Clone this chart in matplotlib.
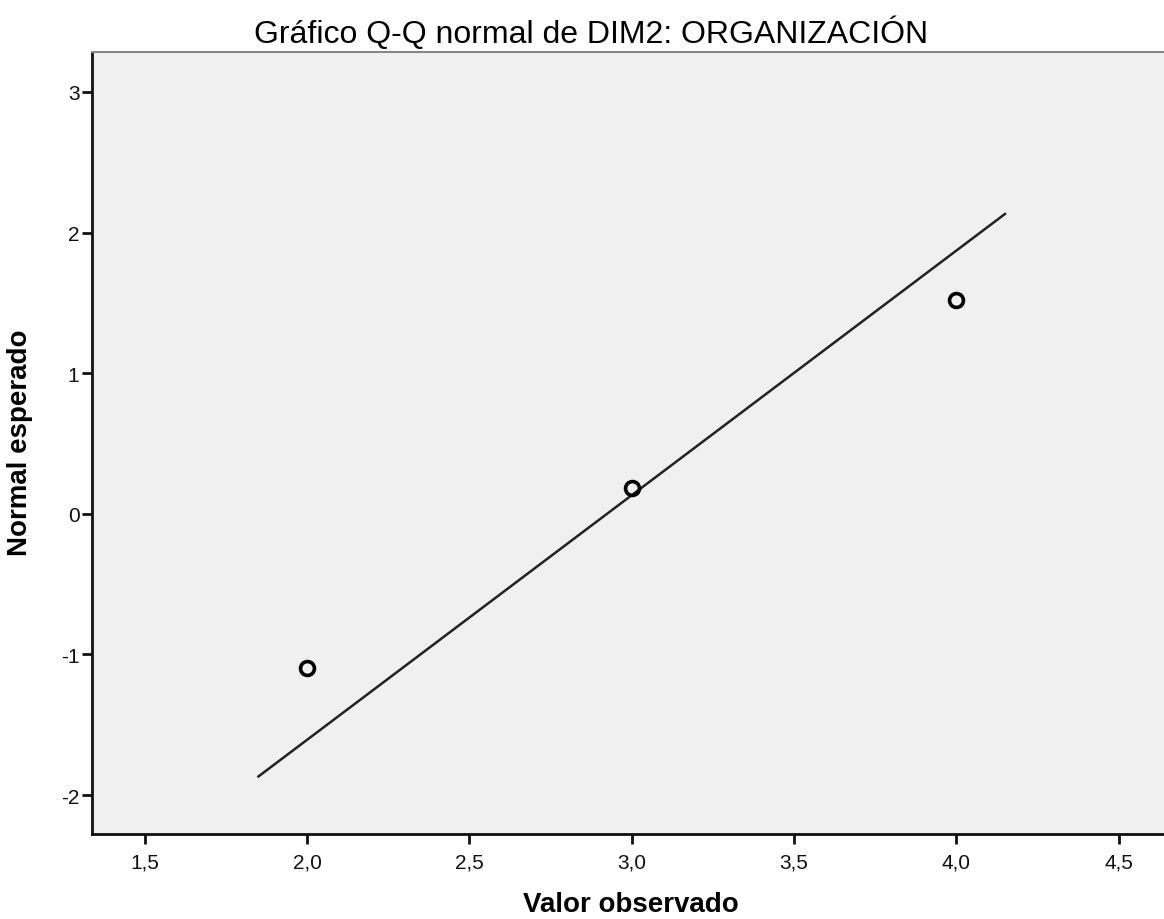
import numpy as np
import matplotlib
matplotlib.use('Agg')
import matplotlib.pyplot as plt
from matplotlib.ticker import FuncFormatter

plt.rcParams['font.family'] = ['Liberation Sans', 'DejaVu Sans']

# datos
valor_observado = [2.0, 3.0, 4.0]
normal_esperado = [-1.10, 0.18, 1.52]
media = 2.924
desv = 0.575
linea_x = [1.85, 4.15]

x_ticks = [1.5, 2.0, 2.5, 3.0, 3.5, 4.0, 4.5]
y_ticks = [-2, -1, 0, 1, 2, 3]

fig = plt.figure(figsize=(11.64, 9.2), dpi=100)
ax = fig.add_axes([0.079, 0.0924, 0.921, 0.850])
ax.set_facecolor('#f0f0f0')

lx = np.array(linea_x)
ax.plot(lx, (lx - media) / desv, color='#222222', linewidth=1.8, zorder=2)
ax.plot(valor_observado, normal_esperado, linestyle='none', marker='o',
        markersize=10, markerfacecolor='none', markeredgecolor='black',
        markeredgewidth=2.6, zorder=3)

ax.set_xlim(1.337, 4.64)
ax.set_ylim(-2.277, 3.284)
ax.set_xticks(x_ticks)
ax.set_yticks(y_ticks)
ax.xaxis.set_major_formatter(FuncFormatter(lambda v, p: f'{v:.1f}'.replace('.', ',')))
ax.yaxis.set_major_formatter(FuncFormatter(lambda v, p: f'{v:.0f}'.replace('\u2212', '-')))
ax.tick_params(axis='both', direction='out', length=7, width=2, labelsize=15, colors='#111111')
ax.tick_params(axis='x', pad=6)
ax.tick_params(axis='y', pad=2)

for s in ['left', 'bottom']:
    ax.spines[s].set_linewidth(2)
    ax.spines[s].set_color('#111111')
ax.spines['top'].set_color('#888888')
ax.spines['top'].set_linewidth(1.5)
ax.spines['right'].set_visible(False)

ax.set_xlabel('Valor observado', fontsize=20, fontweight='bold')
ax.xaxis.set_label_coords(0.503, -0.073)
ax.set_ylabel('Normal esperado', fontsize=20, fontweight='bold')
ax.yaxis.set_label_coords(-0.055, 0.501)
fig.text(0.508, 0.964, 'Gráfico Q-Q normal de DIM2: ORGANIZACIÓN', ha='center',
         va='center', fontsize=23)

fig.savefig('out.png', dpi=100)
